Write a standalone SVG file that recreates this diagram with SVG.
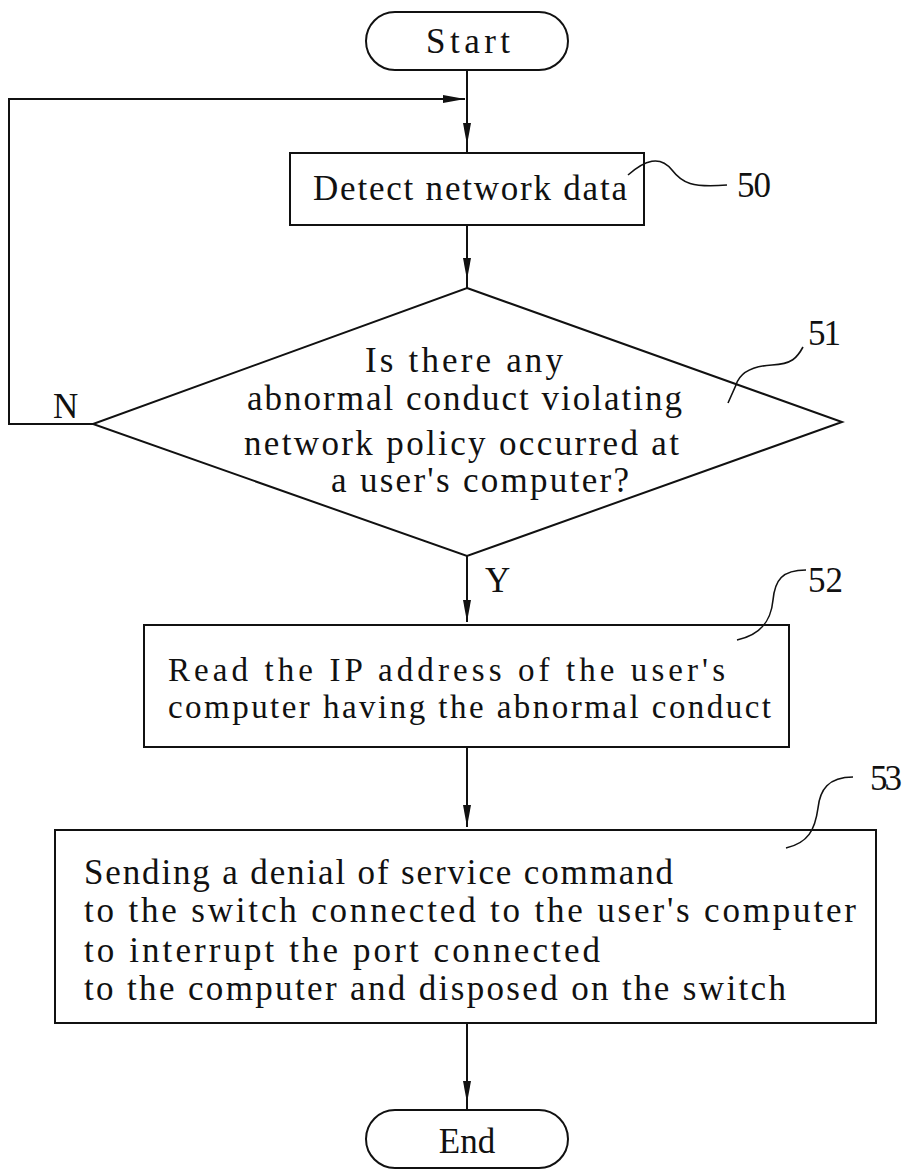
<svg xmlns="http://www.w3.org/2000/svg" width="905" height="1169" viewBox="0 0 905 1169">
<style>
.s{fill:#fff;stroke:#111;stroke-width:2}
.t{font-family:"Liberation Serif",serif;font-size:35px;fill:#111}
.m{font-size:33px}
.c{fill:none;stroke:#111;stroke-width:2}
.l{fill:none;stroke:#111;stroke-width:1.6}
</style>
<defs>
<marker id="ah" markerUnits="userSpaceOnUse" markerWidth="24" markerHeight="10" refX="22" refY="4" orient="auto">
<path d="M0,0 L22,4 L0,8 Z" fill="#111"/>
</marker>
</defs>
<g id="connectors">
<path class="c" d="M467,70 V145" marker-end="url(#ah)"/>
<path class="c" d="M467,140 V153"/>
<path class="c" d="M93,424 H9 V99 H465" marker-end="url(#ah)"/>
<path class="c" d="M467,225 V280" marker-end="url(#ah)"/>
<path class="c" d="M467,275 V288"/>
<path class="c" d="M467,556 V622" marker-end="url(#ah)"/>
<path class="c" d="M467,747 V827" marker-end="url(#ah)"/>
<path class="c" d="M467,1023 V1103" marker-end="url(#ah)"/>
<path class="c" d="M467,1098 V1110"/>
<text class="t" x="53" y="418" textLength="19">N</text>
<text class="t" x="485" y="592" textLength="16">Y</text>
</g>
<g id="start">
<rect class="s" x="366" y="12" width="202" height="58" rx="29"/>
<text class="t" x="426" y="53" textLength="84">Start</text>
</g>
<g id="n50">
<rect class="s" x="290" y="153" width="354" height="72"/>
<text class="t" x="313" y="200" textLength="314">Detect network data</text>
<path class="l" d="M628,175 C645,160 660,155 672,170 C682,183 692,188 727,185"/>
<text class="t" x="737" y="197" textLength="34">50</text>
</g>
<g id="n51">
<polygon class="s" points="467,288 842,422 467,556 93,424"/>
<text class="t" x="365" y="372" textLength="198">Is there any</text>
<text class="t" x="247" y="410" textLength="435">abnormal conduct violating</text>
<text class="t" x="244" y="455" textLength="435">network policy occurred at</text>
<text class="t" x="331" y="492" textLength="298">a user's computer?</text>
<path class="l" d="M803,347 C797,358 792,364 772,365 C752,366 740,372 736,385 L728,403"/>
<text class="t" x="808" y="345" textLength="33">51</text>
</g>
<g id="n52">
<rect class="s" x="144" y="625" width="645" height="122"/>
<text class="t m" x="168" y="681" textLength="557">Read the IP address of the user's</text>
<text class="t m" x="168" y="718" textLength="603">computer having the abnormal conduct</text>
<path class="l" d="M806,570 C782,570 775,580 773,600 C771,622 760,635 737,640"/>
<text class="t" x="808" y="592" textLength="35">52</text>
</g>
<g id="n53">
<rect class="s" x="55" y="830" width="821" height="193"/>
<text class="t" x="84" y="884" textLength="589">Sending a denial of service command</text>
<text class="t" x="84" y="922" textLength="772">to the switch connected to the user's computer</text>
<text class="t" x="84" y="962" textLength="516">to interrupt the port connected</text>
<text class="t" x="84" y="1000" textLength="702">to the computer and disposed on the switch</text>
<path class="l" d="M853,777 C828,777 820,790 818,808 C815,830 808,843 786,848"/>
<text class="t" x="870" y="790" textLength="32">53</text>
</g>
<g id="end">
<rect class="s" x="366" y="1110" width="202" height="58" rx="29"/>
<text class="t" x="467" y="1153" text-anchor="middle">End</text>
</g>
</svg>
